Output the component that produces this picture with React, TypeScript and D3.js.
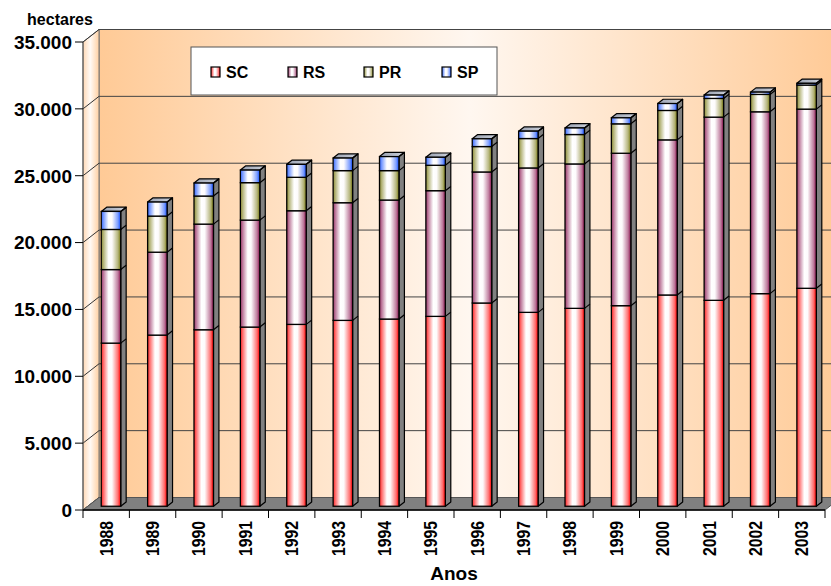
import * as d3 from "d3";

// hectares per state, 1988-2003
const years = ["1988", "1989", "1990", "1991", "1992", "1993", "1994", "1995", "1996", "1997", "1998", "1999", "2000", "2001", "2002", "2003"];
const SC = [12200, 12800, 13200, 13400, 13600, 13900, 14000, 14200, 15200, 14500, 14800, 15000, 15800, 15400, 15900, 16300];
const RS = [5500, 6200, 7900, 8000, 8500, 8800, 8900, 9400, 9800, 10800, 10800, 11400, 11600, 13700, 13600, 13400];
const PR = [3000, 2700, 2100, 2800, 2500, 2400, 2200, 1900, 1900, 2200, 2200, 2200, 2200, 1400, 1300, 1800];
const SP = [1350, 1050, 970, 940, 970, 940, 1050, 600, 580, 550, 490, 450, 520, 250, 170, 130];
const seriesNames = ["SC", "RS", "PR", "SP"];
const yTicks = [0, 5000, 10000, 15000, 20000, 25000, 30000, 35000];

const colors: Record<string, string> = {
  SC: "#ff2020",
  RS: "#993366",
  PR: "#8c8c33",
  SP: "#3366ff",
};

const W = 831;
const H = 586;
const DX = 16;
const DY = -12.5;
const FONT = "'Liberation Sans', Arial, sans-serif";

const fmt = d3.formatLocale({ decimal: ",", thousands: ".", grouping: [3], currency: ["", ""] }).format(",");

export default function App() {
  const x = d3.scaleBand().domain(years).range([83, 825]).padding(0);
  const y = d3.scaleLinear().domain([0, 35000]).range([510, 42]);

  const table = years.map((yr, i) => ({ year: yr, SC: SC[i], RS: RS[i], PR: PR[i], SP: SP[i] }));
  const stack = d3.stack<any>().keys(seriesNames)(table);

  const step = x.step();
  const bw = step * 0.42;
  const zf = 0.3;
  const zb = 0.64;
  const bdx = (zb - zf) * DX;
  const bdy = (zb - zf) * DY;

  const backX0 = 83 + DX;
  const backX1 = 825 + DX;

  const pts = (a: number[][]) => a.map((p) => p.join(",")).join(" ");

  const bars = years.map((yr, i) => {
    const xl = (x(yr) as number) + (step - bw) / 2 + zf * DX;
    const xr = xl + bw;
    const segs = stack.map((s) => {
      const d = s[i];
      return { key: s.key, y0: y(d[0]) + zf * DY, y1: y(d[1]) + zf * DY };
    });
    const top = segs[segs.length - 1].y1;
    const bottom = segs[0].y0;
    return (
      <g key={yr}>
        <polygon
          points={pts([[xr, bottom], [xr + bdx, bottom + bdy], [xr + bdx, top + bdy], [xr, top]])}
          fill="#808080"
          stroke="#000"
          strokeWidth={1.2}
          strokeLinejoin="round"
        />
        <polygon
          points={pts([[xl, top], [xl + bdx, top + bdy], [xr + bdx, top + bdy], [xr, top]])}
          fill="url(#gTop)"
          stroke="#000"
          strokeWidth={1.2}
          strokeLinejoin="round"
        />
        {segs.map((s) => (
          <g key={s.key}>
            <line x1={xr} y1={s.y1} x2={xr + bdx} y2={s.y1 + bdy} stroke="#000" strokeWidth={1.2} />
            <rect
              x={xl}
              y={s.y1}
              width={bw}
              height={Math.max(0, s.y0 - s.y1)}
              fill={`url(#g${s.key})`}
              stroke="#000"
              strokeWidth={1.3}
            />
          </g>
        ))}
      </g>
    );
  });

  const legendX = [211, 288, 364, 442];

  return (
    <div style={{ position: "absolute", left: 0, top: 0 }}>
      <svg width={W} height={H} style={{ display: "block" }}>
        <defs>
          <linearGradient id="gBack" gradientUnits="userSpaceOnUse" x1={backX0} x2={backX1} y1={0} y2={0}>
            <stop offset="0" stopColor="#ffca96" />
            <stop offset="0.5" stopColor="#fff7f0" />
            <stop offset="1" stopColor="#ffca96" />
          </linearGradient>
          <linearGradient id="gSide" x1="0" x2="1" y1="0" y2="0">
            <stop offset="0" stopColor="#ffd8b4" />
            <stop offset="0.45" stopColor="#fffaf6" />
            <stop offset="1" stopColor="#ffd0a2" />
          </linearGradient>
          <linearGradient id="gTop" x1="0" x2="1" y1="0" y2="0">
            <stop offset="0" stopColor="#98a0b0" />
            <stop offset="1" stopColor="#cdd1da" />
          </linearGradient>
          {seriesNames.map((k) => {
            const c = colors[k];
            const dark = d3.color(c)!.darker(0.5).formatHex();
            const soft = d3.interpolateRgb(c, "#ffffff")(0.35);
            return (
              <linearGradient key={k} id={`g${k}`} x1="0" x2="1" y1="0" y2="0">
                <stop offset="0" stopColor={c} />
                <stop offset="0.12" stopColor={soft} />
                <stop offset="0.38" stopColor="#ffffff" />
                <stop offset="0.55" stopColor="#fdfbfc" />
                <stop offset="0.86" stopColor={soft} />
                <stop offset="0.95" stopColor={c} />
                <stop offset="1" stopColor={dark} />
              </linearGradient>
            );
          })}
        </defs>

        {/* back wall */}
        <rect x={backX0} y={y(35000) + DY} width={W - backX0 + 20} height={y(0) - y(35000)} fill="url(#gBack)" stroke="#666" />

        {/* side wall */}
        <polygon
          points={pts([[83, y(35000)], [backX0, y(35000) + DY], [backX0, y(0) + DY], [83, y(0)]])}
          fill="url(#gSide)"
          stroke="#777"
        />

        {/* grid */}
        {yTicks.slice(1).map((v) => (
          <line key={v} x1={backX0} x2={W + 20} y1={y(v) + DY} y2={y(v) + DY} stroke="#444" strokeWidth={1} />
        ))}
        {yTicks.map((v) => (
          <line key={"s" + v} x1={83} x2={backX0} y1={y(v)} y2={y(v) + DY} stroke="#333" strokeWidth={1} />
        ))}

        {/* floor */}
        <polygon
          points={pts([[83, y(0)], [825, y(0)], [backX1, y(0) + DY], [backX0, y(0) + DY]])}
          fill="#808080"
          stroke="#555"
        />

        {bars}

        {/* axes */}
        <line x1={83} x2={83} y1={y(35000)} y2={y(0)} stroke="#555" />
        {yTicks.map((v) => (
          <g key={"t" + v}>
            <line x1={75} x2={83} y1={y(v)} y2={y(v)} stroke="#000" />
            <text
              x={72}
              y={y(v)}
              dy="0.36em"
              textAnchor="end"
              fontFamily={FONT}
              fontWeight="bold"
              fontSize={19}
              fill="#000"
            >
              {fmt(v)}
            </text>
          </g>
        ))}
        <line x1={83} x2={825} y1={y(0)} y2={y(0)} stroke="#000" strokeWidth={1.3} />
        {years.map((yr) => (
          <line key={"xt" + yr} x1={x(yr)} x2={x(yr)} y1={510} y2={518} stroke="#000" />
        ))}
        <line x1={825} x2={825} y1={510} y2={518} stroke="#000" />
        {years.map((yr) => {
          const cx = (x(yr) as number) + step / 2;
          return (
            <text
              key={"xl" + yr}
              transform={`translate(${cx},521) rotate(-90)`}
              textAnchor="end"
              dy="0.36em"
              fontFamily={FONT}
              fontWeight="bold"
              fontSize={18}
              textLength={35}
              lengthAdjust="spacingAndGlyphs"
              fill="#000"
            >
              {yr}
            </text>
          );
        })}

        <text x={454} y={580} textAnchor="middle" fontFamily={FONT} fontWeight="bold" fontSize={19} fill="#000">
          Anos
        </text>
        <text x={60} y={25} textAnchor="middle" fontFamily={FONT} fontWeight="bold" fontSize={16} fill="#000">
          hectares
        </text>

        {/* legend */}
        <rect x={191} y={47} width={306} height={48} fill="#fff" stroke="#555" />
        {seriesNames.map((k, i) => (
          <g key={"lg" + k}>
            <rect x={legendX[i]} y={67} width={9} height={10} fill={`url(#g${k})`} stroke="#000" strokeWidth={1.2} />
            <text
              x={legendX[i] + 15}
              y={78}
              fontFamily={FONT}
              fontWeight="bold"
              fontSize={16}
              fill="#000"
            >
              {k}
            </text>
          </g>
        ))}
      </svg>
    </div>
  );
}
